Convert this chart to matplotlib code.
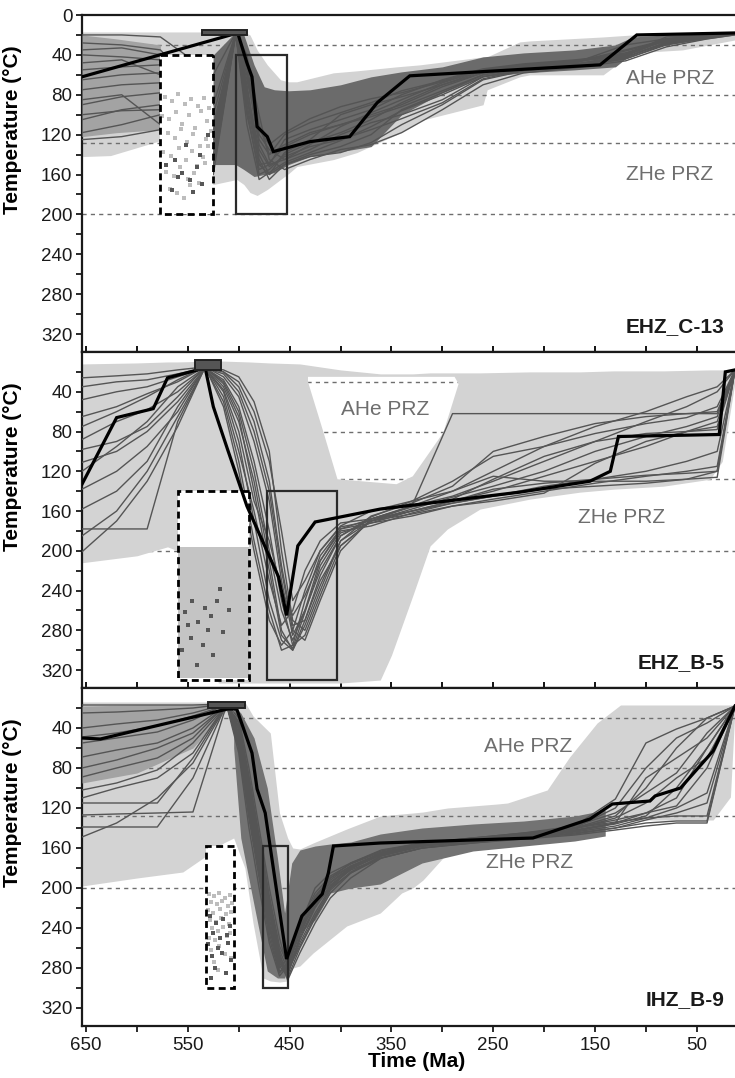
import matplotlib
matplotlib.use("Agg")
import numpy as np
import matplotlib.pyplot as plt
from matplotlib.patches import Rectangle, Polygon
from matplotlib.ticker import FixedLocator

plt.rcParams['font.family'] = ['Liberation Sans', 'DejaVu Sans']

# shared axis setup
time_lim = (654, 12.5)
temp_lim = (338, 0)
x_major = [650, 550, 450, 350, 250, 150, 50]
x_minor = [600, 500, 400, 300, 200, 100]
y_major = [40, 80, 120, 160, 200, 240, 280, 320]
y_minor = [20, 60, 100, 140, 180, 220, 260, 300]
prz_levels = [30, 80, 128, 200]

# ---------------- EHZ_C-13 ----------------
c13_light_t = [654, 626, 577, 525, 502, 495, 489, 482, 472, 459, 451, 443, 407, 384, 345, 322, 283, 260, 256, 224, 214, 142, 113, 64, 12.5]
c13_light_up = [17, 17, 17, 17, 16, 17, 20, 35, 50, 65, 67, 67, 58, 56, 52, 50, 45, 42, 42, 27, 26, 22, 20, 19, 18]
c13_light_lo = [142, 141, 126, 170, 165, 170, 178, 181, 175, 165, 159, 152, 145, 138, 120, 106, 96, 90, 75, 62, 60, 60, 38, 35, 25]

c13_mid_t = [654, 620, 577]
c13_mid_up = [20, 24, 30]
c13_mid_lo = [122, 118, 115]

c13_dark_t = [525, 503, 495, 485, 475, 465, 451, 430, 400, 370, 340, 300, 260, 220, 170, 130, 113, 80, 40, 12.5]
c13_dark_up = [40, 17, 20, 50, 72, 75, 76, 75, 70, 62, 57, 52, 42, 38, 35, 30, 22, 20, 19, 18]
c13_dark_lo = [150, 150, 155, 162, 160, 158, 150, 142, 137, 132, 100, 78, 62, 58, 55, 52, 38, 30, 24, 20]

c13_path_t = [654, 615, 577, 525, 503, 492, 480, 470, 455, 430, 400, 370, 340, 300, 260, 220, 170, 120, 80, 40, 12.5]
c13_paths = [
    [20, 20, 22, 60, 18, 40, 110, 140, 130, 118, 110, 100, 90, 72, 58, 50, 46, 40, 24, 20, 18],
    [28, 30, 35, 90, 18, 60, 130, 150, 145, 135, 120, 108, 100, 85, 62, 55, 50, 42, 28, 22, 19],
    [40, 42, 45, 110, 19, 80, 150, 160, 150, 140, 132, 120, 95, 78, 60, 52, 48, 30, 24, 20, 18],
    [55, 52, 50, 120, 18, 95, 160, 155, 140, 128, 118, 105, 88, 70, 56, 50, 46, 38, 26, 21, 18],
    [65, 60, 58, 135, 20, 70, 145, 165, 150, 142, 138, 128, 110, 90, 65, 56, 52, 44, 30, 23, 19],
    [75, 70, 68, 150, 18, 50, 120, 135, 145, 130, 112, 98, 85, 68, 55, 50, 47, 35, 25, 21, 18],
    [90, 82, 78, 140, 19, 100, 155, 150, 125, 115, 105, 95, 80, 65, 54, 49, 45, 40, 22, 20, 18],
    [105, 95, 90, 160, 18, 110, 165, 158, 148, 138, 126, 112, 96, 80, 62, 54, 50, 43, 27, 22, 19],
    [118, 110, 100, 125, 19, 45, 100, 145, 155, 145, 135, 130, 118, 95, 70, 58, 53, 46, 32, 24, 20],
    [125, 122, 115, 155, 20, 85, 140, 160, 138, 125, 100, 90, 82, 70, 58, 52, 48, 36, 26, 21, 18],
    [35, 33, 40, 100, 18, 55, 125, 140, 120, 108, 98, 88, 76, 66, 55, 50, 46, 42, 28, 22, 19],
    [48, 45, 60, 130, 19, 90, 150, 148, 132, 120, 110, 102, 92, 76, 60, 53, 49, 41, 25, 20, 18],
    [85, 80, 110, 145, 18, 75, 135, 152, 142, 132, 125, 115, 104, 88, 64, 55, 50, 44, 29, 23, 19],
    [100, 96, 95, 115, 20, 65, 115, 130, 118, 104, 92, 84, 78, 67, 56, 51, 47, 39, 24, 21, 18],
]
c13_best_t = [654, 501, 492, 487, 482, 472, 466, 430, 391, 364, 332, 145, 109, 12.5]
c13_best_T = [62, 18, 48, 62, 112, 122, 137, 127, 122, 88, 61, 50, 20, 18]

c13_start_box = (536, 492, 15, 20)
c13_dash_box = (577, 525, 40, 200)
c13_solid_box = (503, 453, 40, 200)

c13_pts_light_t = [572, 566, 560, 553, 547, 540, 534, 529, 575, 569, 562, 556, 549, 543, 537, 531, 570, 563, 557, 551, 545, 538, 532, 527, 574, 567, 559, 552, 546, 541, 535, 530, 571, 564, 558, 550, 544, 539, 533, 568, 561, 554, 548]
c13_pts_light_T = [82, 86, 79, 89, 84, 91, 83, 93, 101, 104, 97, 109, 100, 113, 96, 106, 118, 123, 114, 127, 119, 131, 124, 116, 137, 141, 133, 145, 136, 151, 142, 131, 157, 161, 152, 164, 158, 169, 148, 175, 179, 184, 171]
c13_pts_dark_t = [571, 563, 556, 548, 541, 536, 566, 552, 530, 545, 560, 538]
c13_pts_dark_T = [150, 145, 158, 165, 152, 170, 176, 130, 120, 178, 162, 140]

# ---------------- EHZ_B-5 ----------------
b5_light_t = [654, 600, 570, 560, 520, 490, 470, 440, 400, 361, 350, 329, 312, 295, 263, 214, 165, 132, 83, 37, 25, 12.5]
b5_light_up = [12, 11, 10, 10, 9, 10, 11, 12, 18, 22, 22, 22, 21, 21, 21, 20, 20, 19, 19, 18, 18, 17]
b5_light_lo = [212, 205, 196, 200, 333, 333, 333, 333, 333, 330, 305, 245, 195, 178, 158, 148, 141, 138, 135, 128, 110, 30]

b5_hole_t = [432, 288, 284, 299, 329, 345, 403, 417, 432]
b5_hole_T = [25, 25, 32, 81, 125, 133, 128, 80, 30]

b5_path_t = [654, 620, 590, 560, 533, 515, 500, 485, 470, 458, 447, 435, 420, 400, 370, 330, 290, 250, 200, 150, 100, 60, 30, 12.5]
b5_paths = [
    [26, 24, 22, 18, 15, 20, 30, 60, 110, 180, 250, 230, 200, 175, 160, 150, 140, 120, 95, 75, 60, 45, 35, 18],
    [48, 40, 35, 25, 16, 30, 60, 120, 200, 260, 290, 260, 220, 185, 168, 155, 145, 130, 110, 90, 70, 55, 40, 18],
    [65, 55, 42, 30, 15, 18, 25, 50, 100, 200, 270, 280, 240, 190, 165, 152, 135, 100, 85, 72, 65, 62, 60, 18],
    [88, 70, 58, 40, 16, 40, 90, 170, 250, 290, 300, 270, 230, 195, 170, 160, 150, 140, 125, 110, 95, 80, 70, 18],
    [98, 90, 75, 45, 15, 25, 45, 90, 150, 230, 285, 260, 210, 180, 175, 162, 152, 145, 135, 128, 120, 110, 100, 18],
    [111, 100, 80, 50, 16, 50, 110, 190, 260, 300, 295, 250, 205, 178, 172, 165, 155, 148, 140, 132, 125, 120, 115, 18],
    [138, 120, 95, 60, 15, 35, 70, 130, 210, 280, 300, 275, 235, 190, 170, 158, 146, 135, 120, 100, 85, 75, 65, 18],
    [158, 140, 110, 55, 16, 22, 40, 80, 140, 220, 280, 290, 250, 200, 168, 155, 140, 125, 130, 130, 130, 128, 126, 18],
    [178, 178, 178, 70, 15, 45, 100, 160, 230, 275, 260, 220, 190, 172, 168, 160, 150, 138, 132, 128, 124, 122, 120, 18],
    [185, 160, 120, 65, 16, 28, 55, 110, 180, 250, 295, 285, 245, 195, 170, 155, 62, 62, 62, 62, 62, 62, 62, 18],
    [201, 170, 130, 75, 15, 55, 120, 200, 270, 295, 280, 240, 200, 176, 170, 163, 155, 150, 142, 112, 90, 80, 75, 18],
    [120, 95, 70, 35, 16, 20, 35, 70, 130, 215, 275, 270, 225, 185, 166, 150, 130, 105, 95, 82, 72, 66, 55, 18],
    [75, 60, 45, 28, 15, 32, 65, 140, 220, 285, 298, 262, 215, 182, 172, 160, 152, 145, 138, 135, 132, 128, 120, 18],
    [35, 30, 28, 22, 16, 38, 80, 150, 190, 240, 265, 245, 210, 178, 168, 156, 148, 128, 105, 90, 82, 80, 78, 18],
]
b5_best_t = [654, 620, 584, 570, 533, 525, 511, 492, 461, 453, 442, 425, 361, 224, 155, 135, 127, 28, 22, 12.5]
b5_best_T = [133, 66, 57, 26, 16, 55, 98, 155, 226, 265, 195, 171, 158, 141, 130, 120, 85, 83, 20, 18]

b5_start_box = (543, 517, 8, 18)
b5_dash_box = (560, 490, 140, 330)
b5_solid_box = (472, 403, 140, 330)
b5_pts_fill = (560, 490, 196, 328)
b5_pts_dark_t = [553, 546, 540, 533, 527, 521, 515, 547, 535, 525, 556, 541, 510, 518, 530, 550]
b5_pts_dark_T = [262, 250, 272, 258, 266, 250, 282, 288, 295, 305, 300, 315, 260, 238, 280, 275]

# ---------------- IHZ_B-9 ----------------
b9_light_t = [654, 600, 555, 535, 515, 505, 494, 486, 476, 469, 460, 452, 447, 440, 427, 394, 361, 340, 329, 319, 295, 246, 236, 197, 175, 148, 125, 99, 34, 17, 12.5]
b9_light_up = [14, 14, 14, 14, 14, 13, 14, 28, 38, 45, 125, 150, 160, 161, 155, 141, 128, 126, 125, 124, 120, 116, 115, 102, 69, 35, 17, 17, 17, 17, 17]
b9_light_lo = [198, 190, 184, 170, 155, 150, 180, 235, 290, 293, 294, 293, 280, 278, 265, 238, 225, 205, 200, 192, 165, 152, 150, 142, 140, 135, 133, 132, 132, 109, 20]

b9_mid_t = [654, 600, 545, 512]
b9_mid_up = [18, 17, 17, 16]
b9_mid_lo = [95, 85, 60, 22]

b9_dark_t = [505, 498, 485, 472, 462, 455, 448, 440, 425, 410, 390, 361, 320, 270, 220, 170, 140]
b9_dark_up = [18, 25, 50, 100, 170, 225, 175, 162, 158, 156, 154, 146, 140, 136, 133, 128, 122]
b9_dark_lo = [60, 150, 217, 283, 290, 290, 262, 245, 232, 205, 200, 196, 175, 163, 158, 153, 148]

b9_path_t = [654, 620, 580, 545, 512, 500, 490, 480, 470, 460, 452, 440, 425, 410, 390, 360, 320, 270, 220, 170, 130, 100, 70, 40, 12.5]
b9_paths = [
    [17, 17, 17, 17, 16, 30, 80, 140, 200, 250, 280, 245, 210, 190, 175, 162, 155, 150, 146, 140, 128, 100, 60, 30, 18],
    [25, 24, 22, 20, 16, 45, 110, 170, 230, 275, 285, 255, 225, 200, 180, 165, 157, 152, 148, 142, 135, 125, 110, 60, 18],
    [49, 45, 38, 28, 17, 35, 90, 150, 210, 265, 290, 260, 230, 205, 185, 168, 158, 153, 149, 144, 138, 130, 120, 105, 18],
    [55, 50, 44, 32, 16, 55, 120, 180, 240, 280, 270, 240, 215, 195, 180, 166, 156, 151, 147, 138, 111, 55, 41, 30, 18],
    [69, 62, 55, 40, 17, 40, 100, 160, 220, 262, 282, 250, 218, 198, 182, 170, 160, 155, 150, 145, 140, 135, 133, 133, 18],
    [89, 80, 70, 50, 16, 60, 130, 190, 250, 285, 275, 235, 205, 188, 176, 164, 156, 150, 145, 140, 132, 125, 118, 80, 18],
    [102, 95, 82, 55, 17, 50, 115, 175, 235, 278, 288, 248, 212, 192, 178, 165, 157, 152, 148, 143, 135, 90, 70, 50, 18],
    [115, 115, 115, 70, 16, 38, 95, 155, 215, 270, 292, 265, 235, 210, 190, 170, 160, 154, 150, 146, 140, 132, 125, 115, 18],
    [127, 126, 125, 124, 17, 65, 140, 200, 255, 288, 278, 240, 208, 190, 178, 166, 158, 152, 146, 140, 120, 80, 50, 35, 18],
    [139, 139, 139, 90, 16, 48, 105, 165, 225, 272, 286, 252, 220, 197, 181, 167, 158, 153, 149, 143, 136, 128, 100, 60, 18],
    [149, 135, 110, 75, 17, 58, 125, 185, 245, 283, 280, 245, 214, 194, 179, 166, 157, 151, 147, 141, 130, 115, 90, 70, 18],
    [40, 36, 32, 25, 16, 42, 102, 162, 222, 268, 284, 258, 228, 202, 184, 168, 158, 153, 148, 140, 134, 130, 128, 128, 18],
    [80, 72, 60, 45, 17, 52, 118, 178, 238, 276, 282, 238, 200, 185, 175, 163, 155, 150, 145, 138, 125, 105, 85, 45, 18],
    [110, 100, 90, 65, 16, 34, 88, 148, 208, 258, 276, 242, 218, 200, 185, 170, 160, 155, 151, 147, 142, 138, 135, 135, 18],
]
b9_best_t = [654, 636, 511, 502, 487, 482, 474, 453, 438, 418, 412, 407, 361, 211, 155, 133, 96, 91, 66, 34, 12.5]
b9_best_T = [50, 51, 21, 21, 65, 101, 125, 271, 228, 206, 185, 158, 155, 150, 131, 116, 113, 108, 100, 63, 18]

b9_start_box = (530, 494, 14, 20)
b9_dash_box = (532, 505, 158, 300)
b9_solid_box = (476, 452, 158, 300)
b9_pts_light_t = [529, 524, 519, 514, 509, 527, 521, 516, 511, 507, 530, 525, 518, 513, 508, 528, 522, 517, 510, 526, 520, 515, 509, 529, 523, 512, 527, 519, 514, 524, 508, 520]
b9_pts_light_T = [206, 208, 205, 210, 207, 214, 216, 213, 218, 215, 222, 225, 221, 226, 224, 232, 234, 230, 236, 240, 243, 239, 245, 250, 252, 248, 262, 258, 266, 274, 270, 282]
b9_pts_dark_t = [528, 522, 515, 509, 525, 518, 512, 530, 520, 511, 526, 516, 508, 523, 513, 527]
b9_pts_dark_T = [228, 235, 231, 238, 245, 250, 247, 256, 260, 255, 268, 265, 272, 280, 285, 290]

LIGHT = '#d3d3d3'
MIDFILL = '#a3a3a3'
DARK = '#555555'
PRZ_GREY = '#6e6e6e'


def add_box(ax, box, dashed=False):
    t0, t1, T0, T1 = box
    xy = (min(t0, t1), min(T0, T1))
    w, h = abs(t0 - t1), abs(T1 - T0)
    if dashed:
        ax.add_patch(Rectangle(xy, w, h, facecolor='white', edgecolor='none', zorder=5))
        ax.add_patch(Rectangle(xy, w, h, facecolor='none', edgecolor='black',
                               lw=2.0, linestyle=(0, (2.5, 1.6)), zorder=5.8))
    else:
        ax.add_patch(Rectangle(xy, w, h, facecolor='none', edgecolor='#2a2a2a',
                               lw=1.6, zorder=5.8))


def draw_panel(ax, p):
    # PRZ guide lines: over the light paths where they are sparse, under them where dense
    prz_z = 2.2 if p.get('prz_over') else 1
    for lvl in prz_levels:
        ax.plot(time_lim, [lvl, lvl], color=PRZ_GREY, lw=1.0, dashes=(3, 3), zorder=prz_z)

    ax.fill_between(p['light_t'], p['light_up'], p['light_lo'], color=LIGHT, lw=0, zorder=2)

    if p.get('hole_t') is not None:
        hole = Polygon(np.column_stack([p['hole_t'], p['hole_T']]), closed=True,
                       facecolor='white', edgecolor='none', zorder=2.5)
        ax.add_patch(hole)
        for lvl in prz_levels:
            ln, = ax.plot(time_lim, [lvl, lvl], color=PRZ_GREY, lw=1.0, dashes=(3, 3), zorder=2.6)
            ln.set_clip_path(hole)

    if p.get('mid_t') is not None:
        ax.fill_between(p['mid_t'], p['mid_up'], p['mid_lo'], color=MIDFILL, lw=0, zorder=2.8)
    if p.get('dark_t') is not None:
        ax.fill_between(p['dark_t'], p['dark_up'], p['dark_lo'], color=p['dark_color'],
                        lw=0, zorder=3)

    for row in p['paths']:
        ax.plot(p['path_t'], row, color=DARK, lw=1.0, zorder=4)

    add_box(ax, p['dash_box'], dashed=True)
    add_box(ax, p['solid_box'])

    if p.get('pts_fill') is not None:
        t0, t1, T0, T1 = p['pts_fill']
        ax.add_patch(Rectangle((t1, T0), t0 - t1, T1 - T0, facecolor='#c4c4c4',
                               edgecolor='none', zorder=5.2))
    if p.get('pts_light_t') is not None:
        ax.scatter(p['pts_light_t'], p['pts_light_T'], marker='s', s=6, color='#bdbdbd',
                   lw=0, zorder=5.4)
    ax.scatter(p['pts_dark_t'], p['pts_dark_T'], marker='s', s=7, color='#575757',
               lw=0, zorder=5.5)

    ax.plot(p['best_t'], p['best_T'], color='black', lw=2.3, zorder=6,
            solid_joinstyle='miter')

    t0, t1, T0, T1 = p['start_box']
    ax.add_patch(Rectangle((t1, T0), t0 - t1, T1 - T0, facecolor='#555555',
                           edgecolor='#222222', lw=1.4, zorder=6.5))

    ax.text(p['ahe_pos'][0], p['ahe_pos'][1], 'AHe PRZ', ha='center', va='center',
            fontsize=15, color=PRZ_GREY, zorder=7)
    ax.text(p['zhe_pos'][0], p['zhe_pos'][1], 'ZHe PRZ', ha='center', va='center',
            fontsize=15, color=PRZ_GREY, zorder=7)
    ax.text(23, 312, p['name'], ha='right', va='center', fontsize=15,
            fontweight='bold', color='#1a1a1a', zorder=7)


def style_axes(ax, first, last):
    ax.set_xlim(*time_lim)
    ax.set_ylim(*temp_lim)
    for side in ['left', 'top', 'bottom']:
        ax.spines[side].set_linewidth(1.6)
        ax.spines[side].set_color('#1a1a1a')
    ax.spines['right'].set_visible(False)

    yt = ([0] if first else []) + y_major
    ax.yaxis.set_major_locator(FixedLocator(yt))
    ax.yaxis.set_minor_locator(FixedLocator(y_minor))
    ax.set_yticklabels([str(v) for v in yt])
    ax.tick_params(axis='y', which='both', direction='out', length=4, width=1.3,
                   labelsize=13.5, pad=3, colors='#1a1a1a')

    ax.xaxis.set_major_locator(FixedLocator(x_major))
    ax.xaxis.set_minor_locator(FixedLocator(x_minor))
    if last:
        ax.set_xticklabels([str(v) for v in x_major])
        ax.tick_params(axis='x', which='both', direction='out', length=4, width=1.3,
                       labelsize=13.5, pad=4, colors='#1a1a1a')
        ax.set_xlabel('Time (Ma)', fontsize=15, fontweight='bold', va='top')
        ax.xaxis.set_label_coords(0.513, -0.078)
    else:
        ax.tick_params(axis='x', which='both', direction='in', length=4, width=1.3,
                       labelbottom=False)

    ax.set_ylabel('Temperature (°C)', fontsize=15, fontweight='bold')
    ax.yaxis.set_label_coords(-0.092, 0.66)


def main():
    panels = [
        dict(name='EHZ_C-13', light_t=c13_light_t, light_up=c13_light_up, light_lo=c13_light_lo,
             mid_t=c13_mid_t, mid_up=c13_mid_up, mid_lo=c13_mid_lo,
             dark_t=c13_dark_t, dark_up=c13_dark_up, dark_lo=c13_dark_lo, dark_color='#6b6b6b',
             path_t=c13_path_t, paths=c13_paths, best_t=c13_best_t, best_T=c13_best_T,
             start_box=c13_start_box, dash_box=c13_dash_box, solid_box=c13_solid_box,
             pts_light_t=c13_pts_light_t, pts_light_T=c13_pts_light_T,
             pts_dark_t=c13_pts_dark_t, pts_dark_T=c13_pts_dark_T,
             ahe_pos=(76, 64), zhe_pos=(77, 160), prz_over=True),
        dict(name='EHZ_B-5', light_t=b5_light_t, light_up=b5_light_up, light_lo=b5_light_lo,
             hole_t=b5_hole_t, hole_T=b5_hole_T,
             path_t=b5_path_t, paths=b5_paths, best_t=b5_best_t, best_T=b5_best_T,
             start_box=b5_start_box, dash_box=b5_dash_box, solid_box=b5_solid_box,
             pts_fill=b5_pts_fill, pts_dark_t=b5_pts_dark_t, pts_dark_T=b5_pts_dark_T,
             ahe_pos=(356, 58), zhe_pos=(124, 166)),
        dict(name='IHZ_B-9', light_t=b9_light_t, light_up=b9_light_up, light_lo=b9_light_lo,
             mid_t=b9_mid_t, mid_up=b9_mid_up, mid_lo=b9_mid_lo,
             dark_t=b9_dark_t, dark_up=b9_dark_up, dark_lo=b9_dark_lo, dark_color='#737373',
             path_t=b9_path_t, paths=b9_paths, best_t=b9_best_t, best_T=b9_best_T,
             start_box=b9_start_box, dash_box=b9_dash_box, solid_box=b9_solid_box,
             pts_light_t=b9_pts_light_t, pts_light_T=b9_pts_light_T,
             pts_dark_t=b9_pts_dark_t, pts_dark_T=b9_pts_dark_T,
             ahe_pos=(216, 59), zhe_pos=(214, 175), prz_over=True),
    ]

    W, H = 735, 1078
    fig = plt.figure(figsize=(W / 100, H / 100), dpi=100)
    left = 82 / W
    bounds = [(15, 352), (352, 688), (688, 1026)]

    for i, (p, (top, bottom)) in enumerate(zip(panels, bounds)):
        ax = fig.add_axes([left, 1 - bottom / H, 1 - left, (bottom - top) / H])
        draw_panel(ax, p)
        style_axes(ax, first=(i == 0), last=(i == len(panels) - 1))

    fig.savefig('out.png', dpi=100)
    plt.close(fig)


if __name__ == "__main__":
    main()
